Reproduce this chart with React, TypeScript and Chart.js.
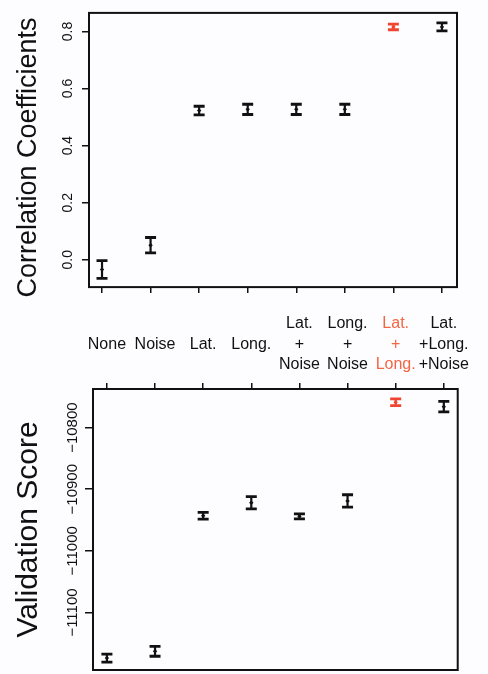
import React, { useEffect, useRef } from "react";
import { Chart, registerables } from "chart.js";

Chart.register(...registerables);

// ---------- data ----------
const categories = [
  "None",
  "Noise",
  "Lat.",
  "Long.",
  "Lat.\n+\nNoise",
  "Long.\n+\nNoise",
  "Lat.\n+\nLong.",
  "Lat.\n+Long.\n+Noise",
];
const highlightIndex = 6;

const corrMean = [-0.034, 0.051, 0.523, 0.527, 0.527, 0.527, 0.816, 0.816];
const corrErr = [0.031, 0.027, 0.015, 0.018, 0.018, 0.018, 0.01, 0.014];
const corrTicks = [0, 0.2, 0.4, 0.6, 0.8];

const scoreMean = [-11174, -11163, -10943, -10922, -10944, -10919, -10759, -10766];
const scoreErr = [6.5, 8, 5.5, 10, 4, 10, 5.5, 8.5];
const scoreTicks = [-11100, -11000, -10900, -10800];

// ---------- styles ----------
const BLACK = "#111111";
const RED = "#f0452e";
const LABEL_RED = "#f26644";
const FONT = "'Liberation Sans', Arial, Helvetica, sans-serif";

function errorBarPlugin(means: number[], errs: number[]) {
  return {
    id: "errbars",
    afterDatasetsDraw(chart: any) {
      const { ctx, scales } = chart;
      const x = scales.x;
      const y = scales.y;
      ctx.save();
      means.forEach((m, i) => {
        const px = x.getPixelForValue(i);
        const top = y.getPixelForValue(m + errs[i]);
        const bot = y.getPixelForValue(m - errs[i]);
        ctx.strokeStyle = i === highlightIndex ? RED : BLACK;
        ctx.lineWidth = 2.2;
        ctx.beginPath();
        ctx.moveTo(px, top);
        ctx.lineTo(px, bot);
        ctx.stroke();
        ctx.lineWidth = 2.8;
        const hw = 5.5;
        ctx.beginPath();
        ctx.moveTo(px - hw, top);
        ctx.lineTo(px + hw, top);
        ctx.moveTo(px - hw, bot);
        ctx.lineTo(px + hw, bot);
        ctx.stroke();
      });
      ctx.restore();
    },
  };
}

const boxPlugin = {
  id: "box",
  afterDraw(chart: any) {
    const { ctx, chartArea: a } = chart;
    ctx.save();
    ctx.strokeStyle = BLACK;
    ctx.lineWidth = 2;
    ctx.strokeRect(a.left, a.top, a.right - a.left, a.bottom - a.top);
    ctx.restore();
  },
};

const tickGrid = (len: number) => ({
  drawOnChartArea: false,
  drawTicks: true,
  tickLength: len,
  color: BLACK,
  lineWidth: 1.5,
});

function pointColors(n: number) {
  return Array.from({ length: n }, (_, i) => (i === highlightIndex ? RED : BLACK));
}

export default function App() {
  const topRef = useRef<HTMLCanvasElement>(null);
  const botRef = useRef<HTMLCanvasElement>(null);

  useEffect(() => {
    const top = new Chart(topRef.current as HTMLCanvasElement, {
      type: "scatter",
      data: {
        datasets: [
          {
            data: corrMean.map((v, i) => ({ x: i, y: v })),
            pointRadius: 2.2,
            pointStyle: "rectRot",
            backgroundColor: pointColors(corrMean.length),
            borderWidth: 0,
          },
        ],
      },
      options: {
        responsive: false,
        animation: false,
        layout: { padding: { left: 0, top: 9, right: 31, bottom: 0 } },
        plugins: { legend: { display: false }, tooltip: { enabled: false } },
        scales: {
          x: {
            type: "linear",
            position: "bottom",
            min: -0.268,
            max: 7.31,
            afterBuildTicks: (s: any) => {
              s.ticks = categories.map((_, i) => ({ value: i }));
            },
            afterFit: (s: any) => {
              s.height = 10;
            },
            ticks: { display: false },
            grid: tickGrid(6),
            border: { display: false },
          },
          y: {
            type: "linear",
            min: -0.0957,
            max: 0.865,
            afterBuildTicks: (s: any) => {
              s.ticks = corrTicks.map((v) => ({ value: v }));
            },
            afterFit: (s: any) => {
              s.width = 89;
            },
            ticks: {
              autoSkip: false,
              minRotation: 90,
              maxRotation: 90,
              crossAlign: "center",
              padding: 4.5,
              color: BLACK,
              font: { family: FONT, size: 14 },
              callback: (v: any) => Number(v).toFixed(1),
            },
            grid: tickGrid(7),
            border: { display: false },
            title: {
              display: true,
              text: "Correlation Coefficients  ",
              color: BLACK,
              font: { family: FONT, size: 27 },
              padding: { top: 12, bottom: 0 },
            },
          },
        },
      } as any,
      plugins: [errorBarPlugin(corrMean, corrErr), boxPlugin],
    });

    const bot = new Chart(botRef.current as HTMLCanvasElement, {
      type: "scatter",
      data: {
        datasets: [
          {
            data: scoreMean.map((v, i) => ({ x: i, y: v })),
            pointRadius: 2.2,
            pointStyle: "rectRot",
            backgroundColor: pointColors(scoreMean.length),
            borderWidth: 0,
          },
        ],
      },
      options: {
        responsive: false,
        animation: false,
        layout: { padding: { left: 0, top: 0, right: 28, bottom: 1 } },
        plugins: { legend: { display: false }, tooltip: { enabled: false } },
        scales: {
          x: {
            type: "linear",
            position: "top",
            min: -0.289,
            max: 7.289,
            afterBuildTicks: (s: any) => {
              s.ticks = categories.map((_, i) => ({ value: i }));
            },
            afterFit: (s: any) => {
              s.height = 89;
            },
            ticks: {
              autoSkip: false,
              minRotation: 0,
              maxRotation: 0,
              crossAlign: "center",
              padding: 18,
              color: (c: any) => (c.index === highlightIndex ? LABEL_RED : BLACK),
              font: { family: FONT, size: 16, lineHeight: 1.3 },
              callback: (v: any) => categories[Math.round(Number(v))].split("\n"),
            },
            grid: tickGrid(6),
            border: { display: false },
          },
          y: {
            type: "linear",
            min: -11193.3,
            max: -10737.4,
            afterBuildTicks: (s: any) => {
              s.ticks = scoreTicks.map((v) => ({ value: v }));
            },
            afterFit: (s: any) => {
              s.width = 93;
            },
            ticks: {
              autoSkip: false,
              minRotation: 90,
              maxRotation: 90,
              crossAlign: "center",
              padding: -13,
              color: BLACK,
              font: { family: FONT, size: 15 },
              callback: (v: any) => "\u2212" + Math.abs(Number(v)),
            },
            grid: tickGrid(8),
            border: { display: false },
            title: {
              display: true,
              text: "Validation Score",
              color: BLACK,
              font: { family: FONT, size: 30 },
              padding: { top: 11, bottom: 0 },
            },
          },
        },
      } as any,
      plugins: [errorBarPlugin(scoreMean, scoreErr), boxPlugin],
    });

    return () => {
      top.destroy();
      bot.destroy();
    };
  }, []);

  return (
    <div
      style={{
        position: "absolute",
        left: 0,
        top: 0,
        width: 488,
        height: 674,
        background: "#fdfdff",
        overflow: "hidden",
      }}
    >
      <canvas
        ref={topRef}
        width={488}
        height={300}
        style={{ position: "absolute", left: 0, top: 0, width: 488, height: 300 }}
      />
      <canvas
        ref={botRef}
        width={488}
        height={374}
        style={{ position: "absolute", left: 0, top: 300, width: 488, height: 374 }}
      />
    </div>
  );
}
